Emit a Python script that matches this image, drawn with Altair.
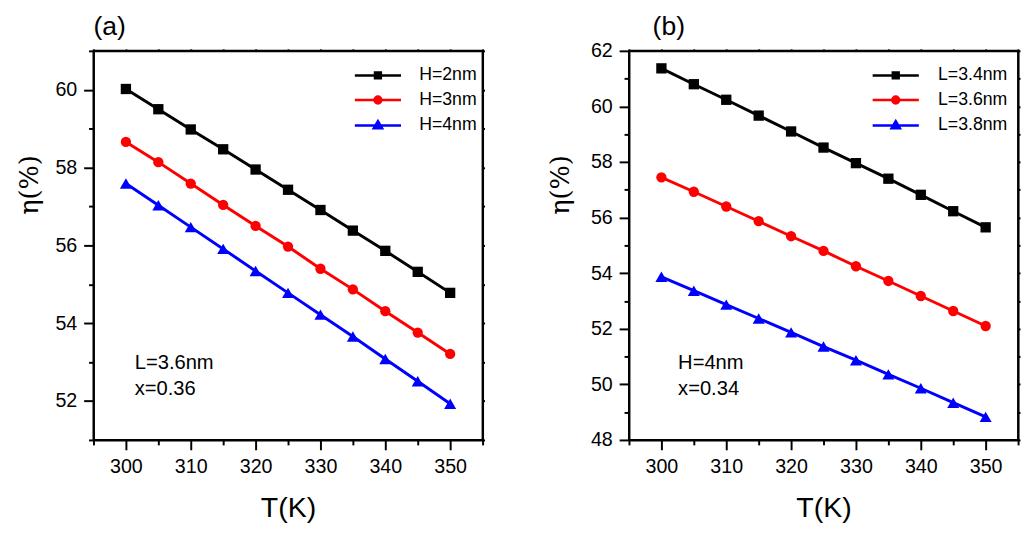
import altair as alt
import pandas as pd

# ---------------- data ----------------
T = [300, 305, 310, 315, 320, 325, 330, 335, 340, 345, 350]

a_labels = ["H=2nm", "H=3nm", "H=4nm"]
a_H2 = [60.02, 59.50, 58.98, 58.47, 57.95, 57.43, 56.91, 56.38, 55.86, 55.32, 54.78]
a_H3 = [58.66, 58.14, 57.59, 57.04, 56.50, 55.97, 55.40, 54.87, 54.31, 53.76, 53.21]
a_H4 = [57.59, 57.03, 56.47, 55.91, 55.34, 54.78, 54.22, 53.66, 53.08, 52.51, 51.93]

b_labels = ["L=3.4nm", "L=3.6nm", "L=3.8nm"]
b_L34 = [61.37, 60.80, 60.24, 59.67, 59.10, 58.52, 57.96, 57.40, 56.82, 56.23, 55.65]
b_L36 = [57.45, 56.93, 56.40, 55.87, 55.33, 54.80, 54.25, 53.72, 53.18, 52.64, 52.10]
b_L38 = [53.87, 53.37, 52.87, 52.37, 51.87, 51.36, 50.87, 50.36, 49.86, 49.34, 48.83]

a_note = "L=3.6nm\nx=0.36"
b_note = "H=4nm\nx=0.34"

x_ticks = [295, 300, 305, 310, 315, 320, 325, 330, 335, 340, 345, 350, 355]
a_y_ticks = [51, 52, 53, 54, 55, 56, 57, 58, 59, 60, 61]
b_y_ticks = [48, 49, 50, 51, 52, 53, 54, 55, 56, 57, 58, 59, 60, 61, 62]

# ---------------- style ----------------
FONT = "Liberation Sans"
colors = ["#000000", "#ff0000", "#0000ff"]
shapes = ["square", "circle", "triangle-up"]
shape_sizes = [110, 110, 150]
legend_paths = [
    "M-4.7,0L4.7,0M-0.6,-0.6L0.6,-0.6L0.6,0.6L-0.6,0.6Z",
    "M-4.7,0L4.7,0M0.7,0A0.7,0.7,0,1,1,-0.7,0A0.7,0.7,0,1,1,0.7,0Z",
    "M-4.7,0L4.7,0M0,-0.9L0.85,0.55L-0.85,0.55Z",
]
W, H = 396, 396


def panel(series, labels, ydom, yticks, note, note_x, title, title_dx, ytitle_x, legend_x, label_offset):
    rows = []
    for lab, vals in zip(labels, series):
        for t, v in zip(T, vals):
            rows.append({"T": t, "eta": v, "series": lab})
    df = pd.DataFrame(rows)

    xscale = alt.Scale(domain=[295, 355], nice=False, zero=False)
    yscale = alt.Scale(domain=ydom, nice=False, zero=False)
    cscale = alt.Scale(range=colors)

    x_axis = alt.Axis(
        values=x_ticks,
        labelExpr="datum.value % 10 === 0 ? datum.label : ''",
        tickSize={"condition": {"test": "datum.value % 10 === 0", "value": 10}, "value": 5},
        labelPadding=7,
        title="T(K)",
        titleFontSize=29,
        titleBaseline="top",
        titleY=55,
    )
    y_axis = alt.Axis(
        values=yticks,
        labelExpr="datum.value % 2 === 0 ? datum.label : ''",
        tickSize={"condition": {"test": "datum.value % 2 === 0", "value": 10}, "value": 5},
        labelPadding=7,
        title="η(%)",
        titleFont="DejaVu Serif",
        titleFontSize=26,
        titleAngle=270,
        titleAlign="center",
        titleBaseline="middle",
        titleX=ytitle_x,
        titleY=136,
    )
    top_axis = alt.Axis(orient="top", values=x_ticks, labels=False, tickSize=2, title=None)
    right_axis = alt.Axis(orient="right", values=yticks, labels=False, tickSize=2, title=None)

    lines = alt.Chart(df).mark_line(strokeWidth=3).encode(
        x=alt.X("T:Q", scale=xscale, axis=x_axis),
        y=alt.Y("eta:Q", scale=yscale, axis=y_axis),
        color=alt.Color("series:N", scale=cscale, legend=None),
    )

    pts = []
    for i, lab in enumerate(labels):
        pts.append(
            alt.Chart(df)
            .transform_filter(alt.datum.series == lab)
            .mark_point(filled=True, shape=shapes[i], size=shape_sizes[i], opacity=1)
            .encode(
                x=alt.X("T:Q", scale=xscale, axis=None),
                y=alt.Y("eta:Q", scale=yscale, axis=None),
                color=alt.Color("series:N", scale=cscale, legend=None),
            )
        )

    text = alt.Chart(pd.DataFrame({"note": [note]})).mark_text(
        align="left", baseline="alphabetic", lineBreak="\n", lineHeight=26,
        fontSize=20.5, font=FONT, color="black",
    ).encode(x=alt.value(note_x), y=alt.value(324), text="note:N")

    leg = alt.Legend(
        orient="none", legendX=legend_x, legendY=16, title=None,
        symbolSize=100, symbolStrokeWidth=2.5, symbolOffset=14.5,
        labelOffset=label_offset, labelFontSize=18, labelFont=FONT, labelColor="black",
        rowPadding=7, padding=0,
    )
    legend_layer = alt.Chart(df).transform_filter("false").mark_point(
        filled=True, opacity=1, strokeWidth=2.5
    ).encode(
        x=alt.X("T:Q", scale=xscale, axis=top_axis),
        y=alt.Y("eta:Q", scale=yscale, axis=right_axis),
        fill=alt.Fill("series:N", scale=alt.Scale(domain=labels, range=colors), legend=leg),
        stroke=alt.Stroke("series:N", scale=alt.Scale(domain=labels, range=colors), legend=leg),
        shape=alt.Shape("series:N", scale=alt.Scale(domain=labels, range=legend_paths), legend=leg),
    )

    return alt.layer(lines, *pts, text, legend_layer).resolve_axis(
        x="independent", y="independent"
    ).properties(
        width=W, height=H,
        title=alt.TitleParams(
            text=title, anchor="start", frame="group", dx=title_dx,
            fontSize=27, font=FONT, fontWeight="normal", color="black", offset=0,
        ),
    )


left = panel([a_H2, a_H3, a_H4], a_labels, [51, 61], a_y_ticks, a_note, 42, "(a)", 0, -65, 266, 33)
right = panel([b_L34, b_L36, b_L38], b_labels, [48, 62], b_y_ticks, b_note, 50, "(b)", 24, -70, 248, 34)

chart = (
    alt.hconcat(left, right, spacing=61)
    .resolve_scale(color="independent", fill="independent", stroke="independent", shape="independent")
    .properties(padding={"left": 8, "top": 0, "right": 0, "bottom": 0}, background="white")
    .configure_view(stroke="black", strokeWidth=2)
    .configure_axis(
        domainColor="black", domainWidth=2, tickColor="black", tickWidth=2,
        labelFont=FONT, labelFontSize=20, labelColor="black",
        titleFont=FONT, titleColor="black", titleFontWeight="normal",
        grid=False, labelFlush=False, labelOverlap=False,
    )
)

chart.save("out.html", embed_options={"renderer": "svg", "actions": False})
